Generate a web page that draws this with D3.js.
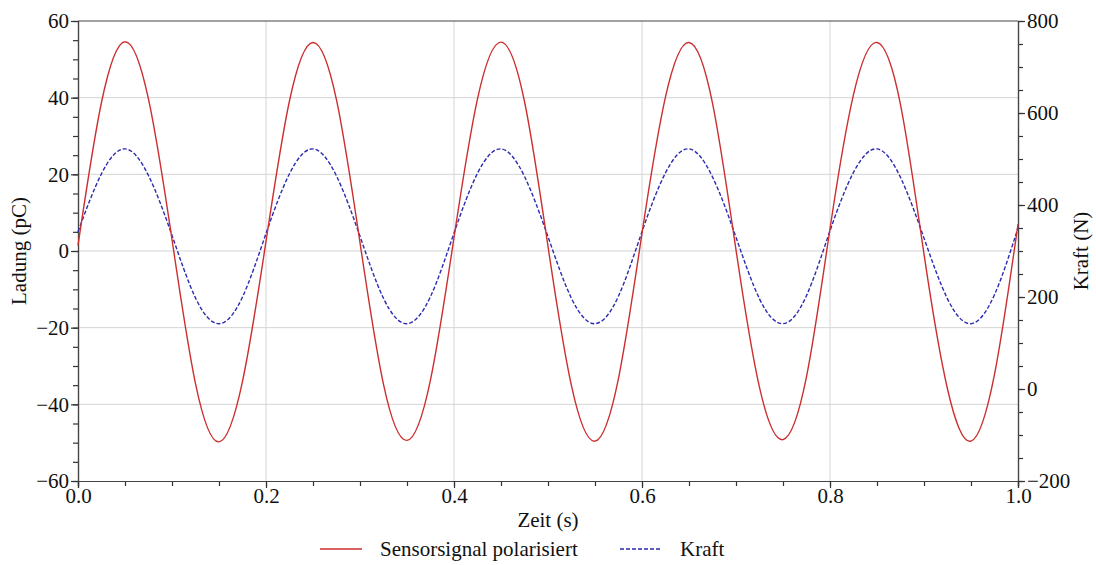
<!DOCTYPE html>
<html lang="de">
<head>
<meta charset="UTF-8">
<title>Ladung und Kraft</title>
<script src="https://cdn.jsdelivr.net/npm/d3@7"></script>
<style>
  body { margin: 0; background: #fff; }
  svg text { font-family: "Liberation Serif", "Times New Roman", serif; fill: #111; }
</style>
</head>
<body>
<script>
var zeit = [0, 0.025, 0.05, 0.075, 0.1, 0.125, 0.15, 0.175,
            0.2, 0.225, 0.25, 0.275, 0.3, 0.325, 0.35, 0.375,
            0.4, 0.425, 0.45, 0.475, 0.5, 0.525, 0.55, 0.575,
            0.6, 0.625, 0.65, 0.675, 0.7, 0.725, 0.75, 0.775,
            0.8, 0.825, 0.85, 0.875, 0.9, 0.925, 0.95, 0.975, 1.0];

// Ladung in pC (Sensorsignal polarisiert)
var ladung = [1.5, 38.8, 54.6, 39.6, 3.0, -34.6, -49.8, -34.0,
              2.5, 39.2, 54.4, 39.4, 2.2, -34.8, -49.4, -33.6,
              3.5, 39.7, 54.5, 39.0, 1.2, -35.2, -49.6, -33.2,
              4.6, 40.2, 54.4, 38.6, 0.3, -35.6, -49.2, -32.8,
              5.8, 40.8, 54.4, 38.2, -0.8, -36.0, -49.6, -32.2, 7.0];

// Kraft in N
var kraft = [342, 468, 522, 464, 334, 198, 142, 200,
             338, 468, 522, 463, 332, 197, 142, 201,
             339, 469, 522, 462, 331, 197, 142, 202,
             342, 470, 522, 461, 330, 196, 142, 203,
             344, 471, 522, 460, 328, 196, 142, 205, 350];

var xTicks = [0, 0.2, 0.4, 0.6, 0.8, 1.0];
var yLeftTicks = [-60, -40, -20, 0, 20, 40, 60];
var yRightTicks = [-200, 0, 200, 400, 600, 800];

var serien = ["Sensorsignal polarisiert", "Kraft"];
var farben = ["#cc2f2f", "#2b2bb0"];

var W = 1096, H = 565;
var m = {left: 78, right: 78, top: 21, bottom: 84};
var fs = 21;

var svg = d3.select("body").append("svg")
    .attr("width", W)
    .attr("height", H);

var x = d3.scaleLinear().domain([0, 1]).range([m.left, W - m.right]);
var yL = d3.scaleLinear().domain([-60, 60]).range([H - m.bottom, m.top]);
var yR = d3.scaleLinear().domain([-200, 800]).range([H - m.bottom, m.top]);

// Gitter
svg.append("g").selectAll("line")
    .data(xTicks.slice(1, -1))
    .enter().append("line")
    .attr("x1", function(d){ return x(d); })
    .attr("x2", function(d){ return x(d); })
    .attr("y1", yL(-60)).attr("y2", yL(60))
    .attr("stroke", "#d4d4d4").attr("stroke-width", 1);

svg.append("g").selectAll("line")
    .data(yLeftTicks.slice(1, -1))
    .enter().append("line")
    .attr("y1", function(d){ return yL(d); })
    .attr("y2", function(d){ return yL(d); })
    .attr("x1", x(0)).attr("x2", x(1))
    .attr("stroke", "#d4d4d4").attr("stroke-width", 1);

// Achsen
function styleAxis(g) {
    g.selectAll(".domain").attr("stroke", "#444").attr("stroke-width", 1.2);
    g.selectAll(".tick line").attr("stroke", "#333").attr("stroke-width", 1.2);
    g.selectAll("text").attr("font-size", fs).attr("fill", "#111");
}

var fmt1 = d3.format(".1f");
var fmtMinus = function(d){ return String(d).replace("-", "\u2212"); };

// Nebenstriche
svg.append("g")
    .attr("transform", "translate(0," + yL(-60) + ")")
    .call(d3.axisBottom(x).ticks(20).tickSize(5).tickFormat(""))
    .call(styleAxis);
svg.append("g")
    .attr("transform", "translate(" + x(0) + ",0)")
    .call(d3.axisLeft(yL).ticks(24).tickSize(5).tickFormat(""))
    .call(styleAxis);
svg.append("g")
    .attr("transform", "translate(" + x(1) + ",0)")
    .call(d3.axisRight(yR).ticks(20).tickSize(5).tickFormat(""))
    .call(styleAxis);

// Hauptstriche
svg.append("g")
    .attr("transform", "translate(0," + yL(-60) + ")")
    .call(d3.axisBottom(x).tickValues(xTicks).tickSize(7).tickPadding(0).tickFormat(fmt1))
    .call(styleAxis);
svg.append("g")
    .attr("transform", "translate(" + x(0) + ",0)")
    .call(d3.axisLeft(yL).tickValues(yLeftTicks).tickSize(7).tickPadding(2).tickFormat(fmtMinus))
    .call(styleAxis);
svg.append("g")
    .attr("transform", "translate(" + x(1) + ",0)")
    .call(d3.axisRight(yR).tickValues(yRightTicks).tickSize(7).tickPadding(2).tickFormat(fmtMinus))
    .call(styleAxis);

// oberer Rahmen
svg.append("line")
    .attr("x1", x(0)).attr("x2", x(1))
    .attr("y1", yL(60)).attr("y2", yL(60))
    .attr("stroke", "#444").attr("stroke-width", 1.2);

// Kurven
var lineL = d3.line()
    .x(function(d, i){ return x(zeit[i]); })
    .y(function(d){ return yL(d); })
    .curve(d3.curveNatural);
var lineR = d3.line()
    .x(function(d, i){ return x(zeit[i]); })
    .y(function(d){ return yR(d); })
    .curve(d3.curveNatural);

svg.append("path")
    .datum(kraft)
    .attr("d", lineR)
    .attr("fill", "none")
    .attr("stroke", farben[1])
    .attr("stroke-width", 1.4)
    .attr("stroke-dasharray", "4,2");

svg.append("path")
    .datum(ladung)
    .attr("d", lineL)
    .attr("fill", "none")
    .attr("stroke", farben[0])
    .attr("stroke-width", 1.4);

// Achsentitel
svg.append("text")
    .attr("x", (x(0) + x(1)) / 2).attr("y", 527)
    .attr("text-anchor", "middle").attr("font-size", fs)
    .text("Zeit (s)");

svg.append("text")
    .attr("transform", "translate(26," + yL(0) + ") rotate(-90)")
    .attr("text-anchor", "middle").attr("font-size", fs)
    .text("Ladung (pC)");

svg.append("text")
    .attr("transform", "translate(1088," + yL(0) + ") rotate(-90)")
    .attr("text-anchor", "middle").attr("font-size", fs)
    .text("Kraft (N)");

// Legende
var legX = [320, 620];
var leg = svg.append("g").selectAll("g")
    .data(serien)
    .enter().append("g")
    .attr("transform", function(d, i){ return "translate(" + legX[i] + ",549)"; });

leg.append("line")
    .attr("x1", 0).attr("x2", 42)
    .attr("y1", 0).attr("y2", 0)
    .attr("stroke", function(d, i){ return farben[i]; })
    .attr("stroke-width", 1.4)
    .attr("stroke-dasharray", function(d, i){ return i === 1 ? "4,2" : null; });

leg.append("text")
    .attr("x", 60).attr("y", 7)
    .attr("font-size", fs)
    .text(function(d){ return d; });
</script>
</body>
</html>
